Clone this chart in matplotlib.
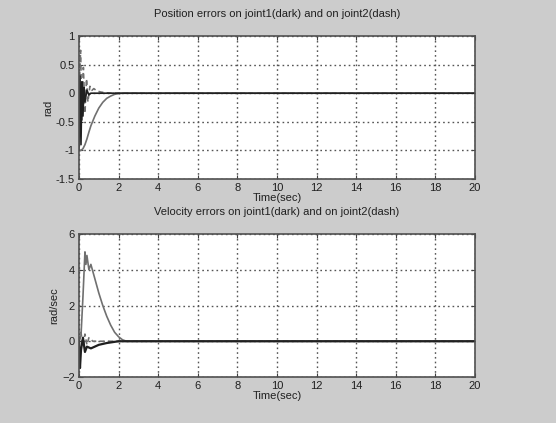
import matplotlib
matplotlib.use("Agg")
import matplotlib.pyplot as plt

# Position errors
pos_t1 = [0, 0.05, 0.1, 0.15, 0.2, 0.25, 0.3, 0.4, 0.5, 0.6, 20]
pos_j1 = [-1.0, 0.3, -0.9, 0.2, -0.4, 0.1, -0.15, 0.05, -0.03, 0.0, 0.0]

pos_tg = [0, 0.1, 0.2, 0.3, 0.4, 0.5, 0.6, 0.8, 1.0, 1.2, 1.4, 1.6, 1.8, 2.0, 2.2, 20]
pos_g = [-1.0, -1.0, -0.97, -0.9, -0.8, -0.68, -0.57, -0.4, -0.26, -0.16, -0.09, -0.05, -0.02, -0.005, 0.0, 0.0]

pos_t2 = [0, 0.08, 0.15, 0.22, 0.3, 0.38, 0.45, 0.55, 0.65, 0.75, 0.9, 1.1, 1.3, 1.6, 20]
pos_j2 = [0.0, 0.75, -0.5, 0.45, -0.35, 0.25, -0.15, 0.12, 0.05, 0.08, 0.04, 0.02, 0.01, 0.0, 0.0]

# Velocity errors
vel_tg = [0, 0.1, 0.2, 0.3, 0.35, 0.4, 0.5, 0.6, 0.7, 0.8, 1.0, 1.2, 1.4, 1.6, 1.8, 2.0, 2.2, 2.4, 20]
vel_g = [0.0, 0.3, 2.5, 5.0, 4.3, 4.8, 4.0, 4.3, 3.9, 3.5, 2.7, 2.0, 1.4, 0.9, 0.5, 0.25, 0.08, 0.0, 0.0]

vel_t1 = [0, 0.05, 0.1, 0.2, 0.3, 0.4, 0.6, 0.8, 1.0, 1.4, 2.0, 20]
vel_j1 = [0.0, -1.5, -0.5, 0.2, -0.6, -0.3, -0.4, -0.3, -0.2, -0.1, 0.0, 0.0]

vel_t2 = [0, 0.1, 0.2, 0.3, 0.4, 0.5, 0.7, 20]
vel_j2 = [0.0, 0.5, -0.3, 0.4, -0.2, 0.2, 0.0, 0.0]

x_ticks = [0, 2, 4, 6, 8, 10, 12, 14, 16, 18, 20]
pos_yticks = [-1.5, -1, -0.5, 0, 0.5, 1]
vel_yticks = [-2, 0, 2, 4, 6]

W, H = 556, 423
bg = "#cccccc"
plt.rcParams['font.family'] = ['Liberation Sans', 'DejaVu Sans']
fig = plt.figure(figsize=(W / 100, H / 100), dpi=100, facecolor=bg)

def mk(top, bottom):
    left, right = 79, 475
    return fig.add_axes([left / W, 1 - bottom / H, (right - left) / W, (bottom - top) / H])

ax1 = mk(36, 179)
ax2 = mk(234, 377)

grey = "#707070"
txt = "#202020"
ax1.plot(pos_tg, pos_g, color=grey, lw=1.2)
ax1.plot(pos_t2, pos_j2, color=grey, lw=1.2, ls="--", dashes=(3, 2))
ax1.plot(pos_t1, pos_j1, color="#202020", lw=1.2)
ax1.set_ylim(-1.5, 1)
ax1.set_yticks(pos_yticks)
ax1.set_yticklabels(["-1.5", "-1", "-0.5", "0", "0.5", "1"])
ax1.set_title("Position errors on joint1(dark) and on joint2(dash)", fontsize=8, pad=14, color=txt)
ax1.set_ylabel("rad", fontsize=8, labelpad=2, color=txt)
ax1.set_xlabel("Time(sec)", fontsize=8, labelpad=0, color=txt)

ax2.plot(vel_tg, vel_g, color=grey, lw=1.2)
ax2.plot(vel_t2, vel_j2, color=grey, lw=1.2, ls="--", dashes=(3, 2))
ax2.plot(vel_t1, vel_j1, color="#202020", lw=1.6)
ax2.set_ylim(-2, 6)
ax2.set_yticks(vel_yticks)
ax2.set_title("Velocity errors on joint1(dark) and on joint2(dash)", fontsize=8, pad=14, color=txt)
ax2.set_ylabel("rad/sec", fontsize=8, labelpad=2, color=txt)
ax2.set_xlabel("Time(sec)", fontsize=8, labelpad=0, color=txt)

for ax in (ax1, ax2):
    ax.set_xlim(0, 20)
    ax.set_xticks(x_ticks)
    ax.set_facecolor("white")
    ax.grid(True, color="#555555", ls=(0, (1.2, 2.2)), lw=1.0)
    ax.tick_params(direction="in", length=3, labelsize=8, top=True, right=True, pad=3,
                   labelcolor=txt, color="#404040")
    for s in ax.spines.values():
        s.set_color("#505050")
        s.set_linewidth(1.2)

fig.savefig("out.png", dpi=100, facecolor=bg)
